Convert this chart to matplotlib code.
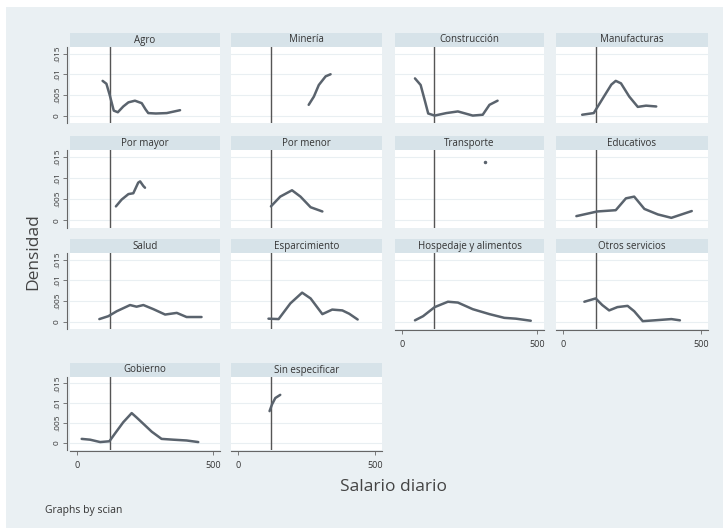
import matplotlib
matplotlib.use("Agg")
import matplotlib.pyplot as plt
from matplotlib.patches import Rectangle

plt.rcParams['font.family'] = ['Open Sans', 'DejaVu Sans']

# ---- data ----
sectors = ["Agro", "Minería", "Construcción", "Manufacturas",
           "Por mayor", "Por menor", "Transporte", "Educativos",
           "Salud", "Esparcimiento", "Hospedaje y alimentos", "Otros servicios",
           "Gobierno", "Sin especificar"]

agro_x = [94, 108, 120, 135, 150, 170, 189, 213, 238, 252, 262, 290, 330, 379]
agro_y = [0.0084, 0.0077, 0.0050, 0.0012, 0.0008, 0.0022, 0.0032, 0.0036, 0.0030, 0.0015, 0.0006, 0.0005, 0.0006, 0.0013]

mineria_x = [258, 277, 295, 320, 338]
mineria_y = [0.0026, 0.0046, 0.0074, 0.0095, 0.0100]

construccion_x = [48, 69, 85, 97, 121, 164, 207, 262, 299, 324, 354]
construccion_y = [0.0090, 0.0074, 0.0035, 0.0005, 0.0000, 0.0006, 0.0010, 0.0000, 0.0002, 0.0026, 0.0036]

manufacturas_x = [69, 111, 148, 175, 191, 210, 240, 271, 301, 338]
manufacturas_y = [0.0002, 0.0006, 0.0046, 0.0075, 0.0084, 0.0078, 0.0046, 0.0021, 0.0024, 0.0022]

pormayor_x = [143, 164, 189, 207, 225, 232, 244, 250]
pormayor_y = [0.0033, 0.0049, 0.0062, 0.0064, 0.0089, 0.0092, 0.0081, 0.0077]

pormenor_x = [120, 154, 197, 228, 265, 308]
pormenor_y = [0.0033, 0.0056, 0.0071, 0.0056, 0.0031, 0.0021]

transporte_x = [309]
transporte_y = [0.0137]

educativos_x = [48, 124, 191, 228, 258, 295, 344, 393, 467]
educativos_y = [0.0010, 0.0021, 0.0024, 0.0052, 0.0056, 0.0027, 0.0014, 0.0006, 0.0022]

salud_x = [82, 115, 146, 195, 219, 244, 281, 324, 367, 403, 458]
salud_y = [0.0006, 0.0013, 0.0025, 0.0040, 0.0036, 0.0040, 0.0030, 0.0017, 0.0021, 0.0011, 0.0011]

esparcimiento_x = [111, 148, 191, 234, 265, 308, 344, 381, 406, 437]
esparcimiento_y = [0.0007, 0.0006, 0.0044, 0.0070, 0.0056, 0.0018, 0.0029, 0.0027, 0.0019, 0.0005]

hospedaje_x = [48, 78, 121, 170, 207, 262, 324, 379, 422, 477]
hospedaje_y = [0.0003, 0.0013, 0.0035, 0.0048, 0.0046, 0.0030, 0.0018, 0.0009, 0.0007, 0.0002]

otros_x = [77, 118, 142, 167, 197, 234, 258, 289, 332, 393, 424]
otros_y = [0.0048, 0.0056, 0.0040, 0.0027, 0.0035, 0.0038, 0.0025, 0.0001, 0.0003, 0.0006, 0.0003]

gobierno_x = [17, 48, 85, 119, 140, 170, 201, 219, 244, 275, 311, 354, 403, 446]
gobierno_y = [0.0010, 0.0008, 0.0002, 0.0004, 0.0024, 0.0052, 0.0075, 0.0064, 0.0048, 0.0028, 0.0010, 0.0008, 0.0006, 0.0002]

sinesp_x = [115, 124, 136, 154]
sinesp_y = [0.0080, 0.0097, 0.0113, 0.0121]

series_x = [agro_x, mineria_x, construccion_x, manufacturas_x, pormayor_x, pormenor_x,
            transporte_x, educativos_x, salud_x, esparcimiento_x, hospedaje_x, otros_x,
            gobierno_x, sinesp_x]
series_y = [agro_y, mineria_y, construccion_y, manufacturas_y, pormayor_y, pormenor_y,
            transporte_y, educativos_y, salud_y, esparcimiento_y, hospedaje_y, otros_y,
            gobierno_y, sinesp_y]

salario_minimo = 120
y_ticks = [0, 0.005, 0.01, 0.015]
y_ticklabels = ["0", ".005", ".01", ".015"]
x_ticks = [0, 500]
x_ticklabels = ["0", "500"]

# ---- layout ----
W, H = 723, 531
fig = plt.figure(figsize=(W / 100, H / 100), dpi=100)
fig.patch.set_facecolor("white")
bg = "#EAF0F3"
fig.patches.append(Rectangle((6 / W, 3 / H), 1 - 6 / W, (H - 10) / H,
                             transform=fig.transFigure, facecolor=bg,
                             edgecolor="none", zorder=-10))

cols = [(70, 220), (231, 382), (395, 544), (556, 708)]
rows = [(47, 123), (150, 228), (253, 329), (377, 450)]
strip_h = 14
line_col = "#5a636d"
txt_col = "#333333"

n = len(sectors)
for i in range(n):
    r, c = divmod(i, 4)
    l, rr = cols[c]
    t, b = rows[r]
    ax = fig.add_axes([l / W, 1 - b / H, (rr - l) / W, (b - t) / H])
    ax.set_facecolor("white")
    ax.set_xlim(-26, 526)
    ax.set_ylim(-0.0018, 0.0166)
    for y in y_ticks:
        ax.axhline(y, color="#E9EFF2", lw=0.8, zorder=0)
    ax.axvline(salario_minimo, color="#555555", lw=1.0, zorder=2)
    if len(series_x[i]) == 1:
        ax.plot(series_x[i], series_y[i], "o", ms=1.5, color=line_col, zorder=3)
    else:
        ax.plot(series_x[i], series_y[i], color=line_col, lw=1.8,
                solid_capstyle="round", solid_joinstyle="round", zorder=3)
    for s in ax.spines.values():
        s.set_visible(False)
    # strip
    sh = strip_h / (b - t)
    ax.add_patch(Rectangle((0, 1), 1, sh, transform=ax.transAxes,
                           facecolor="#D7E3E9", edgecolor="none", clip_on=False))
    ax.text(0.5, 1 + sh / 2, sectors[i], transform=ax.transAxes, ha="center",
            va="center", fontsize=7, color=txt_col)
    # y axis on first column
    if c == 0:
        ax.spines["left"].set_visible(True)
        ax.spines["left"].set_position(("outward", 2))
        ax.spines["left"].set_color("#666666")
        ax.spines["left"].set_linewidth(0.8)
        ax.set_yticks(y_ticks)
        ax.set_yticklabels(y_ticklabels, rotation=90, va="center",
                           fontsize=6, color=txt_col)
        ax.tick_params(axis="y", length=3, width=0.6, color="#666666", pad=1.5)
    else:
        ax.set_yticks([])
    # x axis on bottom panel of each column
    bottom_panel = (i + 4 >= n)
    if bottom_panel:
        ax.spines["bottom"].set_visible(True)
        ax.spines["bottom"].set_position(("outward", 1))
        ax.spines["bottom"].set_color("#666666")
        ax.spines["bottom"].set_linewidth(0.8)
        ax.set_xticks(x_ticks)
        ax.set_xticklabels(x_ticklabels, fontsize=6.5, color=txt_col)
        ax.tick_params(axis="x", length=3, width=0.6, color="#666666", pad=4)
    else:
        ax.set_xticks([])

fig.text(33 / W, 1 - 252 / H, "Densidad", rotation=90, ha="center", va="center",
         fontsize=12.5, color="#444444")
fig.text(394 / W, 1 - 487 / H, "Salario diario", ha="center", va="center",
         fontsize=12.5, color="#444444")
fig.text(45 / W, 1 - 510 / H, "Graphs by scian", ha="left", va="center",
         fontsize=7.5, color=txt_col)

fig.savefig("out.png", dpi=100, facecolor=fig.get_facecolor())
